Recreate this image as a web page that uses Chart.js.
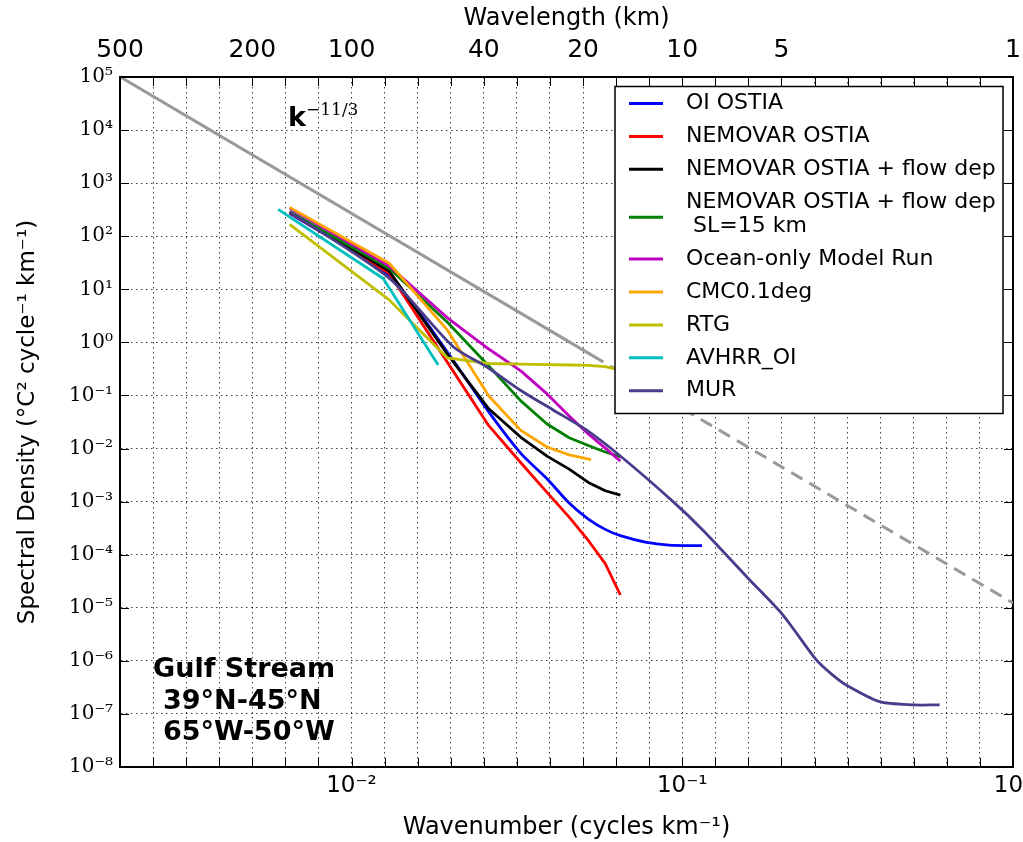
<!DOCTYPE html>
<html>
<head>
<meta charset="utf-8">
<title>Gulf Stream SST spectra</title>
<script src="https://cdn.jsdelivr.net/npm/chart.js@4.4.0/dist/chart.umd.min.js"></script>
<style>
  html, body { margin: 0; padding: 0; background: #fff; }
  #wrap { width: 1023px; height: 842px; }
</style>
</head>
<body>
<div id="wrap"><canvas id="spectra"></canvas></div>
<script>
// wavenumbers (cycles/km)
const kOstia = [0.0065, 0.013, 0.0195, 0.026, 0.0325, 0.039, 0.0455, 0.052, 0.0585, 0.065];
const kOiOstia = [0.0065, 0.013, 0.0195, 0.026, 0.0325, 0.039, 0.0455, 0.052, 0.0585, 0.065, 0.078, 0.091, 0.1148];
const kCmc = [0.0065, 0.013, 0.0195, 0.026, 0.0325, 0.039, 0.0455, 0.053];
const kAvhrr = [0.006, 0.01247, 0.01828];
const kMur = [0.0065, 0.013, 0.0203, 0.0256, 0.0323, 0.0407, 0.0513, 0.0662, 0.0938, 0.1155, 0.16, 0.2016, 0.2543, 0.284, 0.3133, 0.395, 0.498, 0.6];
const kRefSolid = [0.002, 0.0534];
const kRefDashed = [0.0534, 1];

// spectral density (degC^2 per cycle/km)
const oiOstiaPsd = [270, 17.8, 0.65, 0.049, 0.0081, 0.0027, 0.00094, 0.00047, 0.0003, 0.000228, 0.00017, 0.000152, 0.000148];
const nemovarPsd = [280, 20, 0.42, 0.027, 0.0054, 0.00149, 0.00051, 0.000185, 0.000068, 0.0000174];
const flowDepPsd = [290, 22, 0.6, 0.056, 0.0163, 0.0072, 0.0041, 0.0023, 0.0016, 0.00132];
const flowDepSlPsd = [290, 25, 2.4, 0.36, 0.079, 0.029, 0.016, 0.0114, 0.0086, 0.007];
const oceanOnlyPsd = [340, 27.5, 2.9, 0.75, 0.29, 0.107, 0.041, 0.0188, 0.0102, 0.0058];
const cmcPsd = [350, 31, 1.7, 0.098, 0.022, 0.0107, 0.0076, 0.0062];
const rtgPsd = [168, 6.3, 0.51, 0.40, 0.39, 0.38, 0.375, 0.37, 0.35, 0.30];
const avhrrPsd = [320, 16, 0.375];
const murPsd = [288, 16.3, 0.83, 0.348, 0.127, 0.0533, 0.0224, 0.00655, 0.001, 0.00029, 0.0000334, 0.0000073, 0.00000104, 0.00000055, 0.00000035, 0.00000017, 0.000000148, 0.000000148];
const refSolidPsd = [100000, 0.57];
const refDashedPsd = [0.57, 0.0000123];

// axis ticks and labels
const yTickValues = [1e-8, 1e-7, 1e-6, 1e-5, 1e-4, 1e-3, 1e-2, 1e-1, 1, 10, 100, 1e3, 1e4, 1e5];
const yTickLabels = ['10⁻⁸', '10⁻⁷', '10⁻⁶', '10⁻⁵', '10⁻⁴', '10⁻³', '10⁻²', '10⁻¹', '10⁰', '10¹', '10²', '10³', '10⁴', '10⁵'];
const xTickValues = [0.01, 0.1, 1];
const xTickLabels = ['10⁻²', '10⁻¹', '10⁰'];
const wavelengthKm = [500, 200, 100, 40, 20, 10, 5, 1];

const series = [
  { label: ['OI OSTIA'], color: '#0000ff', k: kOiOstia, psd: oiOstiaPsd, smooth: 0.25 },
  { label: ['NEMOVAR OSTIA'], color: '#ff0000', k: kOstia, psd: nemovarPsd, smooth: 0 },
  { label: ['NEMOVAR OSTIA + flow dep'], color: '#000000', k: kOstia, psd: flowDepPsd, smooth: 0 },
  { label: ['NEMOVAR OSTIA + flow dep', ' SL=15 km'], color: '#008000', k: kOstia, psd: flowDepSlPsd, smooth: 0 },
  { label: ['Ocean-only Model Run'], color: '#bf00bf', k: kOstia, psd: oceanOnlyPsd, smooth: 0 },
  { label: ['CMC0.1deg'], color: '#ffa500', k: kCmc, psd: cmcPsd, smooth: 0 },
  { label: ['RTG'], color: '#bfbf00', k: kOstia, psd: rtgPsd, smooth: 0 },
  { label: ['AVHRR_OI'], color: '#00bfbf', k: kAvhrr, psd: avhrrPsd, smooth: 0 },
  { label: ['MUR'], color: '#483d8b', k: kMur, psd: murPsd, smooth: 0.25 }
];

const xMin = Math.pow(10, -2.7);
const xMax = 1;

// minor grid every 0.1 decade in wavenumber
const xGridTicks = [];
for (let i = 0; i <= 27; i++) xGridTicks.push(Math.pow(10, (i - 27) / 10));

function toPoints(k, psd) {
  return k.map((v, i) => ({ x: v, y: psd[i] }));
}

const datasets = [
  { label: 'k-11/3', data: toPoints(kRefSolid, refSolidPsd), borderColor: '#999999', borderWidth: 3, tension: 0 },
  { label: 'k-11/3 dashed', data: toPoints(kRefDashed, refDashedPsd), borderColor: '#999999', borderWidth: 3, borderDash: [13, 8], tension: 0 }
];
series.forEach(s => {
  datasets.push({
    label: s.label.join(' '),
    legendLines: s.label,
    data: toPoints(s.k, s.psd),
    borderColor: s.color,
    borderWidth: 2.8,
    tension: s.smooth
  });
});
// later datasets drawn on top, as in the original
datasets.forEach((d, i) => {
  d.order = -i; d.showLine = true; d.pointRadius = 0; d.fill = false;
  d.borderJoinStyle = 'round'; d.borderCapStyle = 'butt';
});

function fixBox(size) {
  return scale => {
    if (scale.isHorizontal()) scale.height = size; else scale.width = size;
    scale.paddingLeft = 0; scale.paddingRight = 0; scale.paddingTop = 0; scale.paddingBottom = 0;
  };
}

function setXTicks(scale) {
  scale.ticks = xGridTicks.map(v => ({ value: v }));
}

function near(a, b) {
  return Math.abs(Math.log10(a) - Math.log10(b)) < 0.01;
}

const innerTicks = {
  id: 'innerTicks',
  afterDatasetsDraw(chart) {
    const { ctx, chartArea: a, scales } = chart;
    ctx.save();
    ctx.strokeStyle = '#000';
    ctx.lineWidth = 1;
    ctx.beginPath();
    scales.x.ticks.forEach(t => {
      const px = Math.round(scales.x.getPixelForValue(t.value)) + 0.5;
      ctx.moveTo(px, a.bottom); ctx.lineTo(px, a.bottom - 9);
      ctx.moveTo(px, a.top); ctx.lineTo(px, a.top + 9);
    });
    scales.y.ticks.forEach(t => {
      const py = Math.round(scales.y.getPixelForValue(t.value)) + 0.5;
      ctx.moveTo(a.left, py); ctx.lineTo(a.left + 9, py);
      ctx.moveTo(a.right, py); ctx.lineTo(a.right - 9, py);
    });
    ctx.stroke();
    ctx.restore();
  }
};

const legendBox = {
  id: 'legendBox',
  afterDatasetsDraw(chart) {
    const { ctx, chartArea: a } = chart;
    const items = chart.data.datasets.filter(d => d.legendLines);
    const x0 = a.right - 398, y0 = a.top + 9.5, w = 388, h = 327;
    ctx.save();
    ctx.fillStyle = '#fff';
    ctx.fillRect(x0, y0, w, h);
    ctx.lineWidth = 1.5;
    ctx.strokeStyle = '#000';
    ctx.strokeRect(x0, y0, w, h);
    ctx.font = '22px "DejaVu Sans"';
    ctx.textBaseline = 'middle';
    ctx.fillStyle = '#000';
    let y = y0 + 17;
    items.forEach(d => {
      const lines = d.legendLines;
      const mid = y + (lines.length - 1) * 12 + (lines.length > 1 ? 3 : 0);
      ctx.strokeStyle = d.borderColor;
      ctx.lineWidth = 3;
      ctx.beginPath();
      ctx.moveTo(x0 + 14, mid);
      ctx.lineTo(x0 + 48, mid);
      ctx.stroke();
      lines.forEach((t, j) => ctx.fillText(t, x0 + 71, y + j * 24));
      y += 32.9 + (lines.length - 1) * 24;
    });
    ctx.restore();
  }
};

const annotations = {
  id: 'annotations',
  afterDatasetsDraw(chart) {
    const { ctx, chartArea: a } = chart;
    ctx.save();
    ctx.fillStyle = '#000';
    ctx.textBaseline = 'alphabetic';
    ctx.font = 'bold 27px "DejaVu Sans"';
    ctx.fillText('k', a.left + 168, a.top + 49);
    ctx.font = '17px "DejaVu Serif"';
    ctx.fillText('\u221211/3', a.left + 186, a.top + 38);
    ctx.font = 'bold 27px "DejaVu Sans"';
    ctx.fillText('Gulf Stream', a.left + 33, a.bottom - 90);
    ctx.fillText('39°N-45°N', a.left + 43, a.bottom - 58.5);
    ctx.fillText('65°W-50°W', a.left + 43, a.bottom - 27);
    ctx.restore();
  }
};

Chart.defaults.font.family = 'DejaVu Sans';
Chart.defaults.color = '#000';

const gridDash = { display: true, color: '#000', width: 2, dash: [1.5, 3.5] };

new Chart(document.getElementById('spectra'), {
  type: 'scatter',
  data: { datasets: datasets },
  options: {
    responsive: true,
    maintainAspectRatio: false,
    devicePixelRatio: 1,
    animation: false,
    layout: { padding: 0 },
    plugins: { legend: { display: false }, tooltip: { enabled: false } },
    scales: {
      x: {
        type: 'logarithmic', axis: 'x', position: 'bottom', min: xMin, max: xMax, bounds: 'data',
        afterBuildTicks: setXTicks,
        afterFit: fixBox(75),
        grid: { color: 'rgba(0,0,0,0.75)', lineWidth: 1, drawTicks: false },
        border: gridDash,
        ticks: {
          autoSkip: false, maxRotation: 0, minRotation: 0, padding: 5,
          font: { size: 23 },
          callback: v => {
            const i = xTickValues.findIndex(t => near(t, v));
            return i >= 0 ? xTickLabels[i] : '';
          }
        },
        title: { display: true, text: 'Wavenumber (cycles km⁻¹)', font: { size: 24 }, padding: { top: 0, bottom: 0 } }
      },
      x2: {
        type: 'logarithmic', axis: 'x', position: 'top', min: xMin, max: xMax, bounds: 'data',
        afterBuildTicks: setXTicks,
        afterFit: fixBox(77),
        grid: { display: false, drawTicks: false },
        border: { display: true, color: '#000', width: 2 },
        ticks: {
          autoSkip: false, maxRotation: 0, minRotation: 0, padding: 12,
          font: { size: 25 },
          callback: v => {
            const L = wavelengthKm.find(w => near(1 / w, v));
            return L !== undefined ? String(L) : '';
          }
        },
        title: { display: true, text: 'Wavelength (km)', font: { size: 24 }, padding: { top: 4, bottom: 0 } }
      },
      y: {
        type: 'logarithmic', axis: 'y', position: 'left', min: 1e-8, max: 1e5, bounds: 'data',
        afterBuildTicks: scale => { scale.ticks = yTickValues.map(v => ({ value: v })); },
        afterFit: fixBox(120),
        grid: { color: 'rgba(0,0,0,0.75)', lineWidth: 1, drawTicks: false },
        border: gridDash,
        ticks: {
          autoSkip: false, padding: 7,
          font: { family: 'DejaVu Serif', size: 20 },
          callback: (v, i) => yTickLabels[i]
        },
        title: { display: true, text: 'Spectral Density (°C² cycle⁻¹ km⁻¹)', font: { size: 23 }, padding: { top: 14, bottom: 0 } }
      },
      y2: {
        type: 'logarithmic', axis: 'y', position: 'right', min: 1e-8, max: 1e5, bounds: 'data',
        afterBuildTicks: scale => { scale.ticks = yTickValues.map(v => ({ value: v })); },
        afterFit: fixBox(10),
        grid: { display: false, drawTicks: false },
        border: { display: true, color: '#000', width: 2 },
        ticks: { display: false }
      }
    }
  },
  plugins: [innerTicks, legendBox, annotations]
});
</script>
</body>
</html>
